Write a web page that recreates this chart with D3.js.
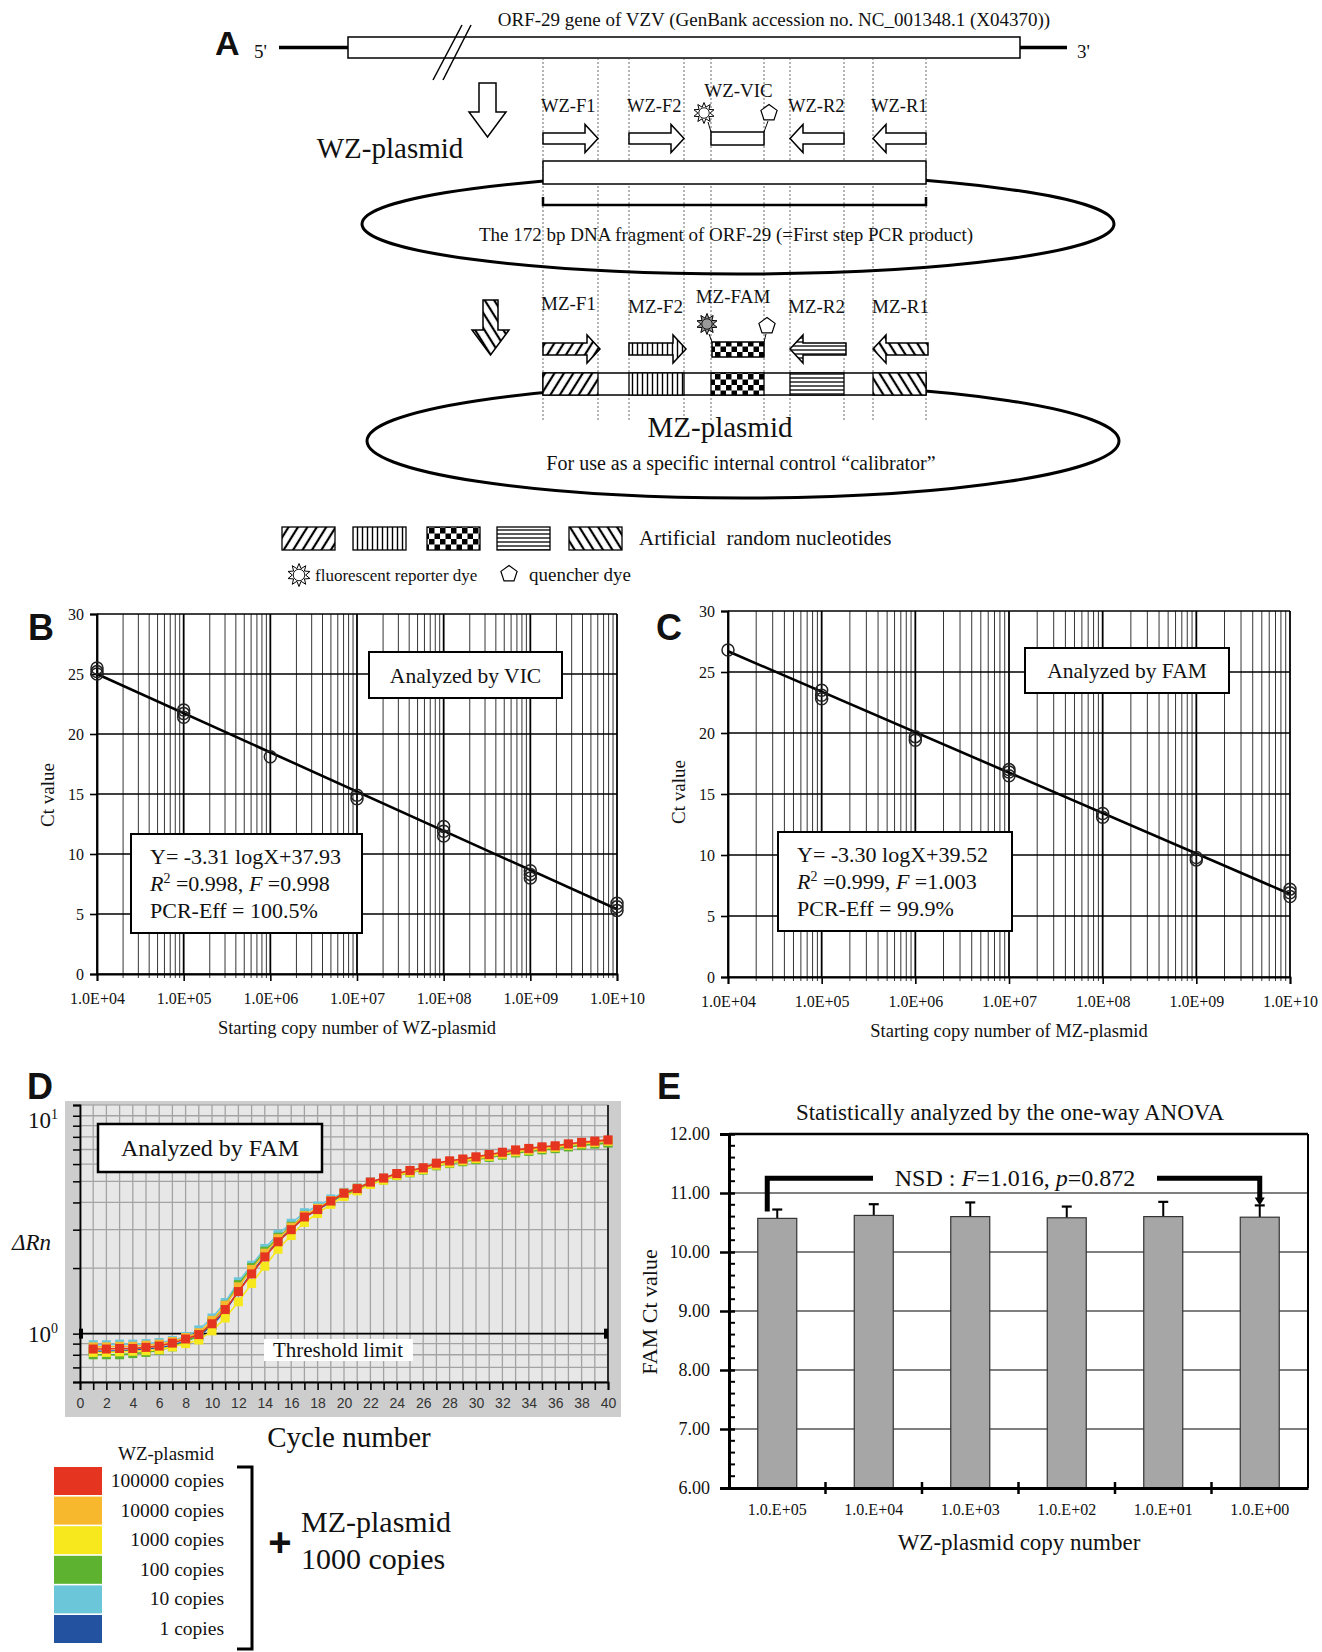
<!DOCTYPE html>
<html><head><meta charset="utf-8">
<script src="https://cdn.jsdelivr.net/npm/d3@7/dist/d3.min.js"></script>
<style>html,body{margin:0;padding:0;background:#fff}svg{display:block}</style>
</head><body>
<svg id="fig" width="1322" height="1652" xmlns="http://www.w3.org/2000/svg"></svg>
<script>
// ================= DATA =================
// Panel A (schematic)
const geneTitle = "ORF-29 gene of VZV (GenBank accession no. NC_001348.1 (X04370))";
const wzPrimers = ["WZ-F1","WZ-F2","WZ-VIC","WZ-R2","WZ-R1"];
const mzPrimers = ["MZ-F1","MZ-F2","MZ-FAM","MZ-R2","MZ-R1"];
const primerKinds = ["fwd","fwd","probe","rev","rev"];
const mzPatterns = ["diag","vert","check","horiz","anti"];
const fragmentText = "The 172 bp DNA fragment of ORF-29 (=First step PCR product)";
const calibratorText = "For use as a specific internal control \u201Ccalibrator\u201D";
const legendPatternText = "Artificial  random nucleotides";
const reporterText = "fluorescent reporter dye";
const quencherText = "quencher dye";

// Panels B & C
const copyTicks = [1e4,1e5,1e6,1e7,1e8,1e9,1e10];
const copyTickLabels = ["1.0E+04","1.0E+05","1.0E+06","1.0E+07","1.0E+08","1.0E+09","1.0E+10"];
const ctTicks = [0,5,10,15,20,25,30];
const vicCopies = [1e4,1e4,1e4,1e5,1e5,1e5,1e6,1e7,1e7,1e8,1e8,1e8,1e9,1e9,1e9,1e10,1e10,1e10];
const vicCt     = [25.0,25.2,25.5,21.4,21.7,22.0,18.1,14.6,14.9,11.5,11.9,12.3,8.0,8.3,8.6,5.3,5.6,5.9];
const vicFitCopies = [1e4,1e10];
const vicFitCt = [25.0,5.4];
const famCopies = [1e4,1e5,1e5,1e5,1e6,1e6,1e7,1e7,1e7,1e8,1e8,1e9,1e9,1e10,1e10,1e10];
const famCt     = [26.8,22.8,23.1,23.5,19.4,19.7,16.5,16.8,17.0,13.1,13.4,9.6,9.8,6.6,6.9,7.2];
const famFitCopies = [1e4,1e10];
const famFitCt = [26.7,6.8];

// Panel D (amplification plot)
const cycles = [1,2,3,4,5,6,7,8,9,10,11,12,13,14,15,16,17,18,19,20,21,22,23,24,25,26,27,28,29,30,31,32,33,34,35,36,37,38,39,40];
const cycleTicks = [0,1,2,3,4,5,6,7,8,9,10,11,12,13,14,15,16,17,18,19,20,21,22,23,24,25,26,27,28,29,30,31,32,33,34,35,36,37,38,39,40];
const rnGrid = [0.6,0.7,0.8,0.9,1,2,3,4,5,6,7,8,9,10];
const seriesNames = ["100000 copies","10000 copies","1000 copies","100 copies","10 copies","1 copies"];
const seriesColors = ["#e5341f","#f8b82e","#f6e81c","#5db22f","#6cc6d9","#2352a0"];
const rn100000 = [0.85,0.85,0.855,0.855,0.865,0.877,0.905,0.945,0.99,1.11,1.29,1.56,1.88,2.25,2.64,3.00,3.43,3.71,4.06,4.41,4.63,4.96,5.18,5.43,5.61,5.77,6.06,6.21,6.33,6.48,6.64,6.80,6.97,7.08,7.20,7.28,7.43,7.55,7.65,7.75];
const rn10000  = [0.87,0.87,0.875,0.875,0.885,0.895,0.92,0.96,1.01,1.15,1.35,1.64,1.97,2.34,2.73,3.08,3.48,3.76,4.08,4.42,4.65,4.95,5.16,5.40,5.58,5.74,6.00,6.15,6.28,6.42,6.58,6.74,6.90,7.01,7.13,7.22,7.36,7.48,7.58,7.68];
const rn1000   = [0.82,0.82,0.825,0.83,0.835,0.845,0.87,0.90,0.935,1.03,1.18,1.40,1.70,2.04,2.44,2.82,3.24,3.56,3.92,4.26,4.52,4.84,5.06,5.32,5.50,5.66,5.93,6.07,6.21,6.35,6.51,6.67,6.83,6.95,7.07,7.16,7.31,7.43,7.53,7.63];
const rn100    = [0.80,0.80,0.80,0.81,0.82,0.84,0.87,0.92,0.98,1.13,1.35,1.68,2.01,2.39,2.77,3.11,3.49,3.75,4.05,4.35,4.57,4.87,5.07,5.31,5.47,5.63,5.89,6.03,6.15,6.29,6.44,6.59,6.75,6.86,6.97,7.06,7.19,7.31,7.41,7.49];
const rn10     = [0.89,0.89,0.895,0.895,0.90,0.91,0.93,0.97,1.04,1.18,1.39,1.73,2.06,2.46,2.86,3.21,3.59,3.85,4.15,4.45,4.67,4.97,5.17,5.41,5.57,5.73,5.99,6.13,6.25,6.39,6.55,6.71,6.87,6.98,7.09,7.18,7.32,7.43,7.53,7.61];
const rn1      = [0.83,0.83,0.835,0.84,0.85,0.86,0.885,0.925,0.975,1.09,1.27,1.56,1.90,2.27,2.66,3.02,3.42,3.70,4.02,4.36,4.58,4.90,5.10,5.36,5.53,5.69,5.96,6.10,6.22,6.36,6.52,6.68,6.84,6.95,7.06,7.15,7.29,7.40,7.50,7.58];
const thresholdRn = 1;

// Panel E (ANOVA bars)
const eCats  = ["1.0.E+05","1.0.E+04","1.0.E+03","1.0.E+02","1.0.E+01","1.0.E+00"];
const eMeans = [10.57,10.62,10.60,10.58,10.60,10.59];
const eErr   = [0.15,0.19,0.24,0.19,0.25,0.20];
const eTicks = [6,7,8,9,10,11,12];
const eMinorTicks = [6.2,6.4,6.6,6.8,7.2,7.4,7.6,7.8,8.2,8.4,8.6,8.8,9.2,9.4,9.6,9.8,10.2,10.4,10.6,10.8,11.2,11.4,11.6,11.8];
const nsdLevel = 11.25;

// ================= DRAWING =================
const svg = d3.select('#fig');
svg.append('rect').attr('width',1322).attr('height',1652).attr('fill','#fff');
const SERIF = '"Liberation Serif","Times New Roman",Times,serif';
const SANS  = '"Liberation Sans",Arial,Helvetica,sans-serif';
function T(g,x,y,s,size,anchor,fam){
  return g.append('text').attr('x',x).attr('y',y).attr('font-family',fam||SERIF)
    .attr('font-size',size).attr('text-anchor',anchor||'start').attr('fill','#111').text(s);
}

// ---- patterns ----
const defs = svg.append('defs');
function hatch(id,angle){
  const p=defs.append('pattern').attr('id',id).attr('patternUnits','userSpaceOnUse')
    .attr('width',8).attr('height',8).attr('patternTransform',`rotate(${angle})`);
  p.append('rect').attr('width',8).attr('height',8).attr('fill','#fff');
  p.append('line').attr('x1',4).attr('y1',-1).attr('x2',4).attr('y2',9).attr('stroke','#000').attr('stroke-width',2.2);
}
hatch('pat-diag',32); hatch('pat-anti',-32);
{ const p=defs.append('pattern').attr('id','pat-vert').attr('patternUnits','userSpaceOnUse').attr('width',5).attr('height',5);
  p.append('rect').attr('width',5).attr('height',5).attr('fill','#fff');
  p.append('line').attr('x1',2.5).attr('y1',0).attr('x2',2.5).attr('y2',5).attr('stroke','#000').attr('stroke-width',1.4); }
{ const p=defs.append('pattern').attr('id','pat-horiz').attr('patternUnits','userSpaceOnUse').attr('width',5).attr('height',4);
  p.append('rect').attr('width',5).attr('height',4).attr('fill','#fff');
  p.append('line').attr('x1',0).attr('y1',2).attr('x2',5).attr('y2',2).attr('stroke','#000').attr('stroke-width',1.3); }
{ const p=defs.append('pattern').attr('id','pat-check').attr('patternUnits','userSpaceOnUse').attr('width',11).attr('height',11);
  p.append('rect').attr('width',11).attr('height',11).attr('fill','#fff');
  p.append('rect').attr('width',5.5).attr('height',5.5).attr('fill','#000');
  p.append('rect').attr('x',5.5).attr('y',5.5).attr('width',5.5).attr('height',5.5).attr('fill','#000'); }
const patUrl = k => `url(#pat-${k})`;

// ---- symbols ----
function sun(g,cx,cy,r,fill){
  const pts=[], n=10;
  for(let i=0;i<2*n;i++){const rr=i%2?r*0.58:r; const a=i*Math.PI/n; pts.push([cx+rr*Math.sin(a),cy-rr*Math.cos(a)]);}
  g.append('polygon').attr('points',pts.map(p=>p.join(',')).join(' ')).attr('fill',fill).attr('stroke','#000').attr('stroke-width',1);
  g.append('circle').attr('cx',cx).attr('cy',cy).attr('r',r*0.5).attr('fill',fill).attr('stroke','#000').attr('stroke-width',0.9);
}
function pentagon(g,cx,cy,r){
  const pts=[]; for(let i=0;i<5;i++){const a=-Math.PI/2+i*2*Math.PI/5; pts.push([cx+r*Math.cos(a),cy+r*Math.sin(a)]);}
  g.append('polygon').attr('points',pts.map(p=>p.join(',')).join(' ')).attr('fill','#fff').attr('stroke','#000').attr('stroke-width',1.2);
}
function arrowPath(x0,x1,cy,dir,bh,hh,hl){
  if(dir>0) return `M${x0},${cy-bh}H${x1-hl}V${cy-hh}L${x1},${cy}L${x1-hl},${cy+hh}V${cy+bh}H${x0}Z`;
  return `M${x1},${cy-bh}H${x0+hl}V${cy-hh}L${x0},${cy}L${x0+hl},${cy+hh}V${cy+bh}H${x1}Z`;
}

// ================= PANEL A =================
const gA = svg.append('g');
const segEdges = [543,598,629,684,711,764,790,844,873,926];
T(gA,215,55,'A',34,'start',SANS).attr('font-weight','bold');
T(gA,774,26,geneTitle,19,'middle');
gA.append('line').attr('x1',279).attr('x2',348).attr('y1',47.5).attr('y2',47.5).attr('stroke','#000').attr('stroke-width',3.5);
gA.append('line').attr('x1',1020).attr('x2',1067).attr('y1',47.5).attr('y2',47.5).attr('stroke','#000').attr('stroke-width',3.5);
gA.append('rect').attr('x',348).attr('y',37).attr('width',672).attr('height',21).attr('fill','#fff').attr('stroke','#000').attr('stroke-width',1.5);
T(gA,254,58,"5'",19); T(gA,1077,58,"3'",19);
gA.append('line').attr('x1',462).attr('y1',25).attr('x2',433).attr('y2',80).attr('stroke','#000').attr('stroke-width',1.5);
gA.append('line').attr('x1',471).attr('y1',25).attr('x2',443).attr('y2',80).attr('stroke','#000').attr('stroke-width',1.5);
// dashed guides
gA.selectAll(null).data(segEdges).join('line').attr('x1',d=>d).attr('x2',d=>d).attr('y1',58).attr('y2',420)
  .attr('stroke','#444').attr('stroke-width',0.8).attr('stroke-dasharray','2,2');

// WZ part
gA.append('path').attr('d','M479,83H496V112H506L487.5,137L469,112H479Z').attr('fill','#fff').attr('stroke','#000').attr('stroke-width',1.5);
T(gA,390,158,'WZ-plasmid',29,'middle');
wzPrimers.forEach((name,i)=>{
  const x0=segEdges[2*i], x1=segEdges[2*i+1], kind=primerKinds[i];
  if(kind==='probe'){
    T(gA,(x0+x1)/2+1,97,name,19,'middle');
    gA.append('line').attr('x1',708).attr('y1',122).attr('x2',x0).attr('y2',132).attr('stroke','#000');
    gA.append('line').attr('x1',768).attr('y1',121).attr('x2',x1).attr('y2',132).attr('stroke','#000');
    gA.append('rect').attr('x',x0).attr('y',132).attr('width',x1-x0).attr('height',13).attr('fill','#fff').attr('stroke','#000').attr('stroke-width',1.5);
    sun(gA,704,113,10.5,'#fff'); pentagon(gA,769,113,8.5);
  } else {
    T(gA,x0-2,112,name,18.5);
    gA.append('path').attr('d',arrowPath(x0,x1,138.5,kind==='fwd'?1:-1,5.5,14,13)).attr('fill','#fff').attr('stroke','#000').attr('stroke-width',1.5);
  }
});
gA.append('ellipse').attr('cx',738).attr('cy',224).attr('rx',376).attr('ry',50).attr('fill','none').attr('stroke','#000').attr('stroke-width',3);
gA.append('rect').attr('x',543).attr('y',161).attr('width',383).attr('height',23).attr('fill','#fff').attr('stroke','#000').attr('stroke-width',1.5);
gA.append('path').attr('d','M543,197V205H926V197').attr('fill','none').attr('stroke','#000').attr('stroke-width',2.5);
T(gA,726,241,fragmentText,19,'middle');

// MZ part
gA.append('path').attr('d','M483,300H498V330H509L490.5,355L472,330H483Z').attr('fill',patUrl('anti')).attr('stroke','#000').attr('stroke-width',1.5);
const mzLabelPos = [[541,310,'start'],[628,313,'start'],[733,303,'middle'],[788,313,'start'],[872,313,'start']];
mzPrimers.forEach((name,i)=>{
  const x0=segEdges[2*i], x1=segEdges[2*i+1], kind=primerKinds[i];
  const lp=mzLabelPos[i];
  T(gA,lp[0],lp[1],name,19,lp[2]);
  if(kind==='probe'){
    gA.append('line').attr('x1',709).attr('y1',334).attr('x2',x0+1).attr('y2',342).attr('stroke','#000');
    gA.append('line').attr('x1',766).attr('y1',334).attr('x2',x1).attr('y2',342).attr('stroke','#000');
    gA.append('rect').attr('x',x0+1).attr('y',342).attr('width',x1-x0-1).attr('height',15).attr('fill',patUrl(mzPatterns[i])).attr('stroke','#000').attr('stroke-width',1.5);
    sun(gA,707,324,10.5,'#999'); pentagon(gA,767,326,8.5);
  } else {
    gA.append('path').attr('d',arrowPath(x0,x1+2,349,kind==='fwd'?1:-1,6,14,13)).attr('fill',patUrl(mzPatterns[i])).attr('stroke','#000').attr('stroke-width',1.5);
  }
});
gA.append('ellipse').attr('cx',743).attr('cy',441).attr('rx',376).attr('ry',57).attr('fill','none').attr('stroke','#000').attr('stroke-width',3);
gA.append('rect').attr('x',543).attr('y',373).attr('width',383).attr('height',22).attr('fill','#fff').attr('stroke','#000').attr('stroke-width',1.5);
mzPrimers.forEach((name,i)=>{
  gA.append('rect').attr('x',segEdges[2*i]).attr('y',373).attr('width',segEdges[2*i+1]-segEdges[2*i]).attr('height',22)
    .attr('fill',patUrl(mzPatterns[i])).attr('stroke','#000').attr('stroke-width',1.3);
});
T(gA,720,437,'MZ-plasmid',29,'middle');
T(gA,741,470,calibratorText,20,'middle');

// legend of A
const legX=[282,353,427,497,569];
mzPatterns.forEach((p,i)=>{
  gA.append('rect').attr('x',legX[i]).attr('y',527).attr('width',53).attr('height',23).attr('fill',patUrl(p)).attr('stroke','#000').attr('stroke-width',1.3);
});
T(gA,639,545,legendPatternText,21).style('white-space','pre');
sun(gA,299,575,11.5,'#fff');
T(gA,315,581,reporterText,17);
pentagon(gA,509,574,8.5);
T(gA,529,581,quencherText,19);

// ================= PANELS B & C =================
function logPanel(o){
  const g=svg.append('g');
  const x=d3.scaleLog().domain([copyTicks[0],copyTicks[copyTicks.length-1]]).range([o.x0,o.x1]);
  const y=d3.scaleLinear().domain([ctTicks[0],ctTicks[ctTicks.length-1]]).range([o.y1,o.y0]);
  const minor=[]; copyTicks.slice(0,-1).forEach(d=>{for(let k=2;k<10;k++) minor.push(d*k);});
  g.selectAll(null).data(minor).join('line').attr('x1',d=>x(d)).attr('x2',d=>x(d)).attr('y1',o.y0).attr('y2',o.y1+4)
    .attr('stroke','#000').attr('stroke-width',0.8);
  g.selectAll(null).data(ctTicks).join('line').attr('x1',o.x0).attr('x2',o.x1).attr('y1',d=>y(d)).attr('y2',d=>y(d))
    .attr('stroke','#000').attr('stroke-width',1.5);
  g.selectAll(null).data(copyTicks).join('line').attr('x1',d=>x(d)).attr('x2',d=>x(d)).attr('y1',o.y0).attr('y2',o.y1)
    .attr('stroke','#000').attr('stroke-width',1.8);
  const ax=g.append('g').attr('transform',`translate(0,${o.y1})`)
    .call(d3.axisBottom(x).tickValues(copyTicks).tickFormat((d,i)=>copyTickLabels[i]).tickSize(7).tickPadding(12));
  const ay=g.append('g').attr('transform',`translate(${o.x0},0)`)
    .call(d3.axisLeft(y).tickValues(ctTicks).tickSize(7).tickPadding(6));
  [ax,ay].forEach(a=>{a.select('.domain').attr('stroke','#000').attr('stroke-width',1.8);
    a.selectAll('.tick line').attr('stroke','#000').attr('stroke-width',1.6);
    a.selectAll('text').attr('font-family',SERIF).attr('font-size',16).attr('fill','#111');});
  // fit line
  g.append('path').datum(o.fitX.map((d,i)=>[d,o.fitY[i]]))
    .attr('d',d3.line().x(d=>x(d[0])).y(d=>y(d[1]))).attr('fill','none').attr('stroke','#000').attr('stroke-width',2.6);
  g.selectAll(null).data(o.px.map((d,i)=>[d,o.py[i]])).join('circle')
    .attr('cx',d=>x(d[0])).attr('cy',d=>y(d[1])).attr('r',6).attr('fill','none').attr('stroke','#222').attr('stroke-width',1.5);
  // boxes
  const b1=o.titleBox;
  g.append('rect').attr('x',b1[0]).attr('y',b1[1]).attr('width',b1[2]).attr('height',b1[3]).attr('fill','#fff').attr('stroke','#000').attr('stroke-width',2);
  T(g,b1[0]+b1[2]/2,b1[1]+b1[3]/2+7.5,o.title,21.5,'middle');
  const b2=o.eqBox;
  g.append('rect').attr('x',b2[0]).attr('y',b2[1]).attr('width',b2[2]).attr('height',b2[3]).attr('fill','#fff').attr('stroke','#000').attr('stroke-width',2);
  const tx=b2[0]+19;
  T(g,tx,b2[1]+30,o.eq[0],22);
  const t2=g.append('text').attr('x',tx).attr('y',b2[1]+57).attr('font-family',SERIF).attr('font-size',22).attr('fill','#111');
  t2.append('tspan').attr('font-style','italic').text('R');
  t2.append('tspan').attr('font-size',14).attr('dy',-8).text('2');
  t2.append('tspan').attr('dy',8).text(' =' + o.eq[1] + ', ');
  t2.append('tspan').attr('font-style','italic').text('F');
  t2.append('tspan').text(' =' + o.eq[2]);
  T(g,tx,b2[1]+84,o.eq[3],22);
  // labels
  T(g,o.letter[0],o.letter[1],o.letter[2],36,'start',SANS).attr('font-weight','bold');
  T(g,0,0,'Ct value',19,'middle').attr('transform',`translate(${o.yl[0]},${o.yl[1]}) rotate(-90)`);
  T(g,(o.x0+o.x1)/2,o.xl,o.xtitle,18.5,'middle');
}
logPanel({x0:97,x1:617,y0:614,y1:974,px:vicCopies,py:vicCt,fitX:vicFitCopies,fitY:vicFitCt,
  titleBox:[369,652,193,46],title:'Analyzed by VIC',eqBox:[131,834,231,99],
  eq:['Y= -3.31 logX+37.93','0.998','0.998','PCR-Eff = 100.5%'],
  letter:[28,640,'B'],yl:[54,795],xl:1034,xtitle:'Starting copy number of WZ-plasmid'});
logPanel({x0:728,x1:1290,y0:611,y1:977,px:famCopies,py:famCt,fitX:famFitCopies,fitY:famFitCt,
  titleBox:[1025,648,204,45],title:'Analyzed by FAM',eqBox:[778,832,234,99],
  eq:['Y= -3.30 logX+39.52','0.999','1.003','PCR-Eff = 99.9%'],
  letter:[656,640,'C'],yl:[685,792],xl:1037,xtitle:'Starting copy number of MZ-plasmid'});

// ================= PANEL D =================
const gD = svg.append('g');
T(gD,27,1099,'D',36,'start',SANS).attr('font-weight','bold');
gD.append('rect').attr('x',65).attr('y',1101).attr('width',556).attr('height',316).attr('fill','#cdcdcd');
const xD=d3.scaleLinear().domain([cycleTicks[0],cycleTicks[cycleTicks.length-1]]).range([80,608]);
const yD=d3.scaleLog().domain([0.6,11.2]).range([1382,1105]);
gD.append('rect').attr('x',80).attr('y',1105).attr('width',528).attr('height',277).attr('fill','#e7e7e7').attr('stroke','#999');
gD.selectAll(null).data(cycleTicks).join('line').attr('x1',d=>xD(d)).attr('x2',d=>xD(d)).attr('y1',1105).attr('y2',1382)
  .attr('stroke','#a3a3a3').attr('stroke-width',1.3);
gD.selectAll(null).data(rnGrid).join('line').attr('x1',80).attr('x2',608).attr('y1',d=>yD(d)).attr('y2',d=>yD(d))
  .attr('stroke','#a3a3a3').attr('stroke-width',1.3);
const axD=gD.append('g').attr('transform','translate(0,1382)')
  .call(d3.axisBottom(xD).tickValues(cycleTicks).tickFormat(d=>d%2===0?d:'').tickSize(8).tickPadding(8));
axD.select('.domain').attr('stroke','#000').attr('stroke-width',1.8);
axD.selectAll('.tick line').attr('stroke','#000').attr('stroke-width',1.6);
axD.selectAll('text').attr('font-family',SANS).attr('font-size',14).attr('fill','#333');
const ayD=gD.append('g').attr('transform','translate(80,0)')
  .call(d3.axisLeft(yD).tickValues(rnGrid.concat([11.2])).tickFormat('').tickSize(7));
ayD.select('.domain').attr('stroke','#000').attr('stroke-width',1.8);
ayD.selectAll('.tick line').attr('stroke','#000').attr('stroke-width',1.5);
gD.append('line').attr('x1',608).attr('x2',608).attr('y1',1105).attr('y2',1382).attr('stroke','#222').attr('stroke-width',1.8);
// threshold
gD.append('line').attr('x1',80).attr('x2',608).attr('y1',yD(thresholdRn)).attr('y2',yD(thresholdRn)).attr('stroke','#000').attr('stroke-width',1.6);
gD.append('rect').attr('x',79).attr('y',yD(thresholdRn)-5).attr('width',4).attr('height',10).attr('fill','#000');
gD.append('rect').attr('x',604).attr('y',yD(thresholdRn)-5).attr('width',4).attr('height',10).attr('fill','#000');
// curves
const allSeries=[rn100000,rn10000,rn1000,rn100,rn10,rn1];
const drawOrder=[5,4,3,2,1,0];
const lineD=d3.line().x((d,i)=>xD(cycles[i])).y(d=>yD(d));
drawOrder.forEach(si=>{
  const s=allSeries[si], c=seriesColors[si];
  gD.append('path').datum(s).attr('d',lineD).attr('fill','none').attr('stroke',c).attr('stroke-width',1.6);
  gD.selectAll(null).data(s).join('rect').attr('x',(d,i)=>xD(cycles[i])-4.5).attr('y',d=>yD(d)-4.5)
    .attr('width',9).attr('height',9).attr('fill',c);
});
// threshold label
gD.append('rect').attr('x',264).attr('y',1339).attr('width',149).attr('height',22).attr('fill','#fff');
T(gD,338,1357,'Threshold limit',21,'middle');
// FAM box
gD.append('rect').attr('x',98).attr('y',1124).attr('width',224).attr('height',48).attr('fill','#fff').attr('stroke','#000').attr('stroke-width',2.5);
T(gD,210,1156,'Analyzed by FAM',24,'middle');
// y labels
{ const t=gD.append('text').attr('x',28).attr('y',1128).attr('font-family',SERIF).attr('font-size',23).attr('fill','#111');
  t.append('tspan').text('10'); t.append('tspan').attr('font-size',14).attr('dy',-9).text('1'); }
{ const t=gD.append('text').attr('x',28).attr('y',1342).attr('font-family',SERIF).attr('font-size',23).attr('fill','#111');
  t.append('tspan').text('10'); t.append('tspan').attr('font-size',14).attr('dy',-9).text('0'); }
T(gD,12,1250,'\u0394Rn',23).attr('font-style','italic');
T(gD,349,1447,'Cycle number',29,'middle');
// legend D
T(gD,166,1460,'WZ-plasmid',19,'middle');
seriesNames.forEach((n,i)=>{
  const yy=1467+i*29.6;
  gD.append('rect').attr('x',54).attr('y',yy).attr('width',48).attr('height',28).attr('fill',seriesColors[i]);
  T(gD,224,yy+20,n,19.5,'end');
});
gD.append('path').attr('d','M237,1467H252V1649H237').attr('fill','none').attr('stroke','#000').attr('stroke-width',3);
T(gD,280,1556,'+',40,'middle',SANS).attr('font-weight','bold');
T(gD,301,1532,'MZ-plasmid',30);
T(gD,301,1569,'1000 copies',30);

// ================= PANEL E =================
const gE = svg.append('g');
T(gE,657,1099,'E',36,'start',SANS).attr('font-weight','bold');
T(gE,1010,1120,'Statistically analyzed by the one-way ANOVA',23,'middle');
const xE=d3.scaleBand().domain(eCats).range([729,1308]);
const yE=d3.scaleLinear().domain([eTicks[0],eTicks[eTicks.length-1]]).range([1488,1134]);
gE.selectAll(null).data(eTicks.slice(1,-1)).join('line').attr('x1',729).attr('x2',1308).attr('y1',d=>yE(d)).attr('y2',d=>yE(d))
  .attr('stroke','#555').attr('stroke-width',1.3);
gE.append('line').attr('x1',729).attr('x2',1308).attr('y1',yE(12)).attr('y2',yE(12)).attr('stroke','#000').attr('stroke-width',2.5);
gE.append('line').attr('x1',1308).attr('x2',1308).attr('y1',yE(12)).attr('y2',yE(6)).attr('stroke','#000').attr('stroke-width',2);
const bw=39;
// error bars
gE.selectAll(null).data(eCats).join('line').attr('x1',d=>xE(d)+xE.bandwidth()/2).attr('x2',d=>xE(d)+xE.bandwidth()/2)
  .attr('y1',(d,i)=>yE(eMeans[i])).attr('y2',(d,i)=>yE(eMeans[i]+eErr[i])).attr('stroke','#000').attr('stroke-width',2);
gE.selectAll(null).data(eCats).join('line').attr('x1',d=>xE(d)+xE.bandwidth()/2-5).attr('x2',d=>xE(d)+xE.bandwidth()/2+5)
  .attr('y1',(d,i)=>yE(eMeans[i]+eErr[i])).attr('y2',(d,i)=>yE(eMeans[i]+eErr[i])).attr('stroke','#000').attr('stroke-width',2.2);
gE.selectAll(null).data(eCats).join('rect').attr('x',d=>xE(d)+xE.bandwidth()/2-bw/2).attr('width',bw)
  .attr('y',(d,i)=>yE(eMeans[i])).attr('height',(d,i)=>yE(6)-yE(eMeans[i]))
  .attr('fill','#a6a6a6').attr('stroke','#333').attr('stroke-width',1.2);
const ayE=gE.append('g').attr('transform','translate(729,0)')
  .call(d3.axisLeft(yE).tickValues(eTicks).tickFormat(d=>d.toFixed(2)).tickSize(9).tickPadding(10));
ayE.select('.domain').attr('stroke','#000').attr('stroke-width',3);
ayE.selectAll('.tick line').attr('stroke','#000').attr('stroke-width',2.5).attr('x2',-9).attr('x1',6);
ayE.selectAll('text').attr('font-family',SERIF).attr('font-size',18).attr('fill','#111');
gE.selectAll(null).data(eMinorTicks).join('line').attr('x1',729).attr('x2',735).attr('y1',d=>yE(d)).attr('y2',d=>yE(d))
  .attr('stroke','#000').attr('stroke-width',2);
const axE=gE.append('g').attr('transform','translate(0,1488)')
  .call(d3.axisBottom(xE).tickSize(0).tickPadding(16));
axE.select('.domain').attr('stroke','#000').attr('stroke-width',3);
axE.selectAll('text').attr('font-family',SERIF).attr('font-size',16).attr('fill','#111');
gE.selectAll(null).data(eCats.slice(1)).join('line').attr('x1',d=>xE(d)).attr('x2',d=>xE(d)).attr('y1',1482).attr('y2',1494)
  .attr('stroke','#000').attr('stroke-width',2.5);
T(gE,0,0,'FAM Ct value',22,'middle').attr('transform','translate(657,1312) rotate(-90)');
T(gE,1019,1550,'WZ-plasmid copy number',23,'middle');
// NSD bracket
const xL=xE(eCats[0])+xE.bandwidth()/2-10, xR=xE(eCats[5])+xE.bandwidth()/2;
const yN=yE(nsdLevel);
gE.append('path').attr('d',`M${xL},${yE(eMeans[0]+eErr[0])+2}V${yN}H873`).attr('fill','none').attr('stroke','#000').attr('stroke-width',5);
gE.append('path').attr('d',`M1157,${yN}H${xR}V${yE(eMeans[5]+eErr[5])-6}`).attr('fill','none').attr('stroke','#000').attr('stroke-width',5);
gE.append('path').attr('d',`M${xR-5},${yE(eMeans[5]+eErr[5])-8}H${xR+5}L${xR},${yE(eMeans[5]+eErr[5])}Z`).attr('fill','#000');
{ const t=gE.append('text').attr('x',1015).attr('y',1186).attr('text-anchor','middle').attr('font-family',SERIF).attr('font-size',24).attr('fill','#111');
  t.append('tspan').text('NSD : '); t.append('tspan').attr('font-style','italic').text('F');
  t.append('tspan').text('=1.016, '); t.append('tspan').attr('font-style','italic').text('p');
  t.append('tspan').text('=0.872'); }
</script></body></html>
